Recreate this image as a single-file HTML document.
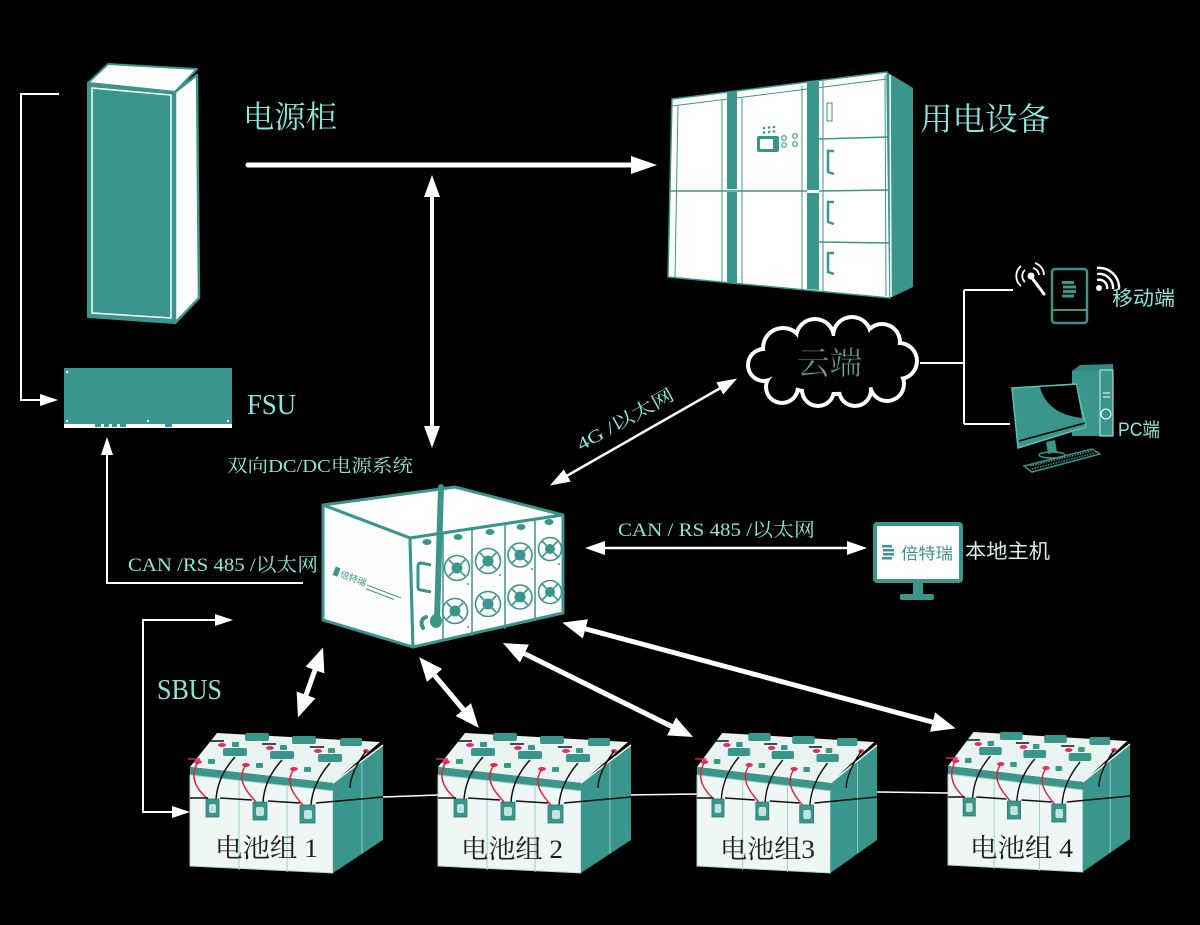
<!DOCTYPE html>
<html><head><meta charset="utf-8">
<style>
html,body{margin:0;padding:0;background:#000;}
svg{display:block;}
.serif{font-family:"Liberation Serif","Noto Serif CJK SC",serif;}
.sans{font-family:"Liberation Sans","Noto Sans CJK SC",sans-serif;}
</style></head><body>
<svg width="1200" height="925" viewBox="0 0 1200 925" xmlns="http://www.w3.org/2000/svg">
<defs>
<marker id="m1" viewBox="0 0 20 14" refX="13" refY="7" markerWidth="20" markerHeight="14" markerUnits="userSpaceOnUse" orient="auto-start-reverse"><path d="M0,0 L20,7 L0,14 z" fill="#fff"/></marker>
<marker id="m2" viewBox="0 0 24 20" refX="15" refY="10" markerWidth="24" markerHeight="20" markerUnits="userSpaceOnUse" orient="auto-start-reverse"><path d="M0,0 L24,10 L0,20 z" fill="#fff"/></marker>
<marker id="m3" viewBox="0 0 18 12" refX="12" refY="6" markerWidth="18" markerHeight="12" markerUnits="userSpaceOnUse" orient="auto-start-reverse"><path d="M0,0 L18,6 L0,12 z" fill="#fff"/></marker>
<marker id="m4" viewBox="0 0 22 16" refX="14" refY="8" markerWidth="22" markerHeight="16" markerUnits="userSpaceOnUse" orient="auto-start-reverse"><path d="M0,0 L22,8 L0,16 z" fill="#fff"/></marker>

<g id="bat">
  <polygon points="0,34 27,0 190,9 143,50" fill="#e9f4f1"/>
  <polygon points="0,34 143,50 143,58 0,42" fill="#3a958a"/>
  <polygon points="0,42 143,58 143,140 0,133" fill="#eef7f5" stroke="#a8d6ce" stroke-width="1"/>
  <polygon points="143,50 193,12 193,107 143,140" fill="#3a958a"/>
  <path d="M143,50 L193,12" stroke="#e8f6f3" stroke-width="1.5"/>
  <path d="M172,30 L172,120" stroke="#8fd0c6" stroke-width="1"/>
  <path d="M49,47 L49,137 M97,52 L97,139" stroke="#9ccfc6" stroke-width="1"/>
  <!-- top blocks -->
  <g fill="#3a958a">
    <rect x="55" y="0" width="24" height="8" rx="2"/>
    <rect x="102" y="3" width="24" height="8" rx="2"/>
    <rect x="150" y="5" width="22" height="8" rx="2"/>
    <rect x="33" y="15" width="24" height="8" rx="2"/>
    <rect x="80" y="18" width="24" height="8" rx="2"/>
    <rect x="128" y="21" width="24" height="8" rx="2"/>
    <rect x="42" y="9" width="7" height="5" rx="1"/>
    <rect x="90" y="12" width="7" height="5" rx="1"/>
    <rect x="138" y="15" width="7" height="5" rx="1"/>
    <rect x="18" y="26" width="7" height="5" rx="1"/>
    <rect x="66" y="30" width="7" height="5" rx="1"/>
    <rect x="114" y="34" width="7" height="5" rx="1"/>
    <rect x="14" y="38" width="16" height="4"/>
    <rect x="62" y="43" width="16" height="4"/>
    <rect x="110" y="48" width="16" height="4"/>
  </g>
  <g fill="#e0306a">
    <ellipse cx="8" cy="29" rx="4" ry="2"/>
    <ellipse cx="56" cy="32" rx="4" ry="2"/>
    <ellipse cx="104" cy="36" rx="4" ry="2"/>
    <ellipse cx="32" cy="12" rx="4" ry="2"/>
    <ellipse cx="80" cy="15" rx="4" ry="2"/>
    <ellipse cx="128" cy="18" rx="4" ry="2"/>
    <ellipse cx="176" cy="18" rx="3" ry="2"/>
  </g>
  <g fill="none" stroke-width="1.5">
    <path d="M8,29 C-2,45 8,58 19,67" stroke="#e0203a"/>
    <path d="M56,32 C46,46 56,58 66,69" stroke="#e0203a"/>
    <path d="M104,36 C94,50 104,62 113,72" stroke="#e0203a"/>
    <path d="M-2,26 L10,26" stroke="#e0203a"/>
    <path d="M45,24 C34,36 27,50 26,67" stroke="#111"/>
    <path d="M92,27 C80,40 74,54 73,69" stroke="#111"/>
    <path d="M140,30 C128,44 122,58 121,72" stroke="#111"/>
    <path d="M176,18 C166,32 160,44 160,55" stroke="#111"/>
    <path d="M20,8 L34,8 M72,11 L86,11 M120,14 L134,14" stroke="#111"/>
    <path d="M0,65 L18,65 M30,65 L62,67 M78,68 L110,70 M126,70 L193,64" stroke="#111"/>
  </g>
  <g fill="#3a958a" stroke="#2a7a70" stroke-width="0.8">
    <rect x="16" y="66" width="13" height="18"/>
    <rect x="63" y="69" width="14" height="18"/>
    <rect x="110" y="72" width="15" height="18"/>
  </g>
  <g fill="#bfe3dd">
    <rect x="19" y="71" width="7" height="9" rx="2"/>
    <rect x="66" y="74" width="8" height="9" rx="2"/>
    <rect x="114" y="77" width="8" height="9" rx="2"/>
  </g>
</g>
</defs>

<!-- Power cabinet -->
<polygon points="88,83 108,64 197,69 175,92" fill="#fff" stroke="#3a958a" stroke-width="2" stroke-linejoin="round"/>
<polygon points="175,92 197,75 199,298 175,323" fill="#fff" stroke="#3a958a" stroke-width="2.5" stroke-linejoin="round"/>
<polygon points="88,83 175,92 175,323 88,317" fill="#3a958a" stroke="#3a958a" stroke-width="2"/>
<polygon points="92,88 171,95 171,318 92,313" fill="none" stroke="#fff" stroke-width="1.5"/>
<polygon points="95,92 167,98 167,314 95,309" fill="none" stroke="#3a958a" stroke-width="1"/>

<text x="243" y="128" class="serif" font-size="31" fill="#8ae6da" textLength="94" lengthAdjust="spacingAndGlyphs">电源柜</text>

<!-- left bracket -->
<polyline points="59,94 21,94 21,400 52,400" fill="none" stroke="#fff" stroke-width="2" marker-end="url(#m3)"/>

<!-- FSU -->
<rect x="64" y="368" width="168" height="57" fill="#3a958a"/>
<rect x="64" y="424" width="168" height="4" fill="#fff"/>
<g fill="#3a958a"><rect x="95" y="424" width="6" height="3"/><rect x="104" y="424" width="5" height="3"/><rect x="112" y="424" width="5" height="3"/><rect x="120" y="424" width="6" height="3"/><rect x="165" y="424" width="7" height="3"/></g>
<g fill="#fff"><circle cx="67" cy="372" r="1.2"/><circle cx="67" cy="421" r="1.2"/><circle cx="148" cy="421" r="1.2"/><circle cx="228" cy="421" r="1.2"/></g>
<text x="247" y="414" class="serif" font-size="28" fill="#8ae6da" textLength="49" lengthAdjust="spacingAndGlyphs">FSU</text>

<!-- top horizontal arrow -->
<line x1="248" y1="165" x2="636" y2="165" stroke="#fff" stroke-width="5" stroke-linecap="round"/>
<polygon points="631,156 657,165 631,174" fill="#fff"/>

<!-- vertical double arrow -->
<line x1="432" y1="183" x2="432" y2="440" stroke="#fff" stroke-width="4" marker-start="url(#m4)" marker-end="url(#m4)"/>

<!-- Equipment -->
<polygon points="672,99 887,72 890,298 668,277" fill="#fff" stroke="#3a958a" stroke-width="1.5"/>
<g stroke="#3a958a" stroke-width="1" fill="none">
  <path d="M672,106 L887,79"/>
  <path d="M678,106 L675,278"/>
  <path d="M722,100 L722,282"/>
  <path d="M742,98 L742,284"/>
  <path d="M802,86 L802,289"/>
  <path d="M823,81 L823,291"/>
  <path d="M885,75 L886,296"/>
</g>
<polygon points="727,92 737,91 737,284 727,283" fill="#3a958a"/>
<polygon points="807,81 819,80 819,290 807,289" fill="#3a958a"/>
<rect x="727" y="189" width="10" height="3" fill="#fff"/>
<rect x="807" y="190" width="12" height="3" fill="#fff"/>
<g stroke="#3a958a" stroke-width="1.5">
  <path d="M670,191 L807,191"/>
  <path d="M819,139 L888,137"/>
  <path d="M819,191 L889,190"/>
  <path d="M819,242 L889,243"/>
</g>
<polygon points="887,72 913,88 913,287 890,298" fill="#3a958a"/>
<path d="M890,75 L891,297" stroke="#fff" stroke-width="1.5"/>
<rect x="757" y="136" width="22" height="16" rx="2" fill="#3a958a"/>
<rect x="760" y="139" width="13" height="10" rx="1" fill="#fff"/>
<g fill="#3a958a"><circle cx="764" cy="128" r="1.3"/><circle cx="769" cy="127.5" r="1.3"/><circle cx="774" cy="127" r="1.3"/><circle cx="764" cy="132.5" r="1.3"/><circle cx="769" cy="132" r="1.3"/><circle cx="774" cy="131.5" r="1.3"/></g>
<g fill="none" stroke="#3a958a" stroke-width="1.2"><circle cx="784" cy="138" r="2.3"/><circle cx="795" cy="136" r="2.3"/><circle cx="784" cy="145" r="2.3"/><circle cx="795" cy="144" r="2.3"/></g>
<rect x="827" y="103" width="5" height="18" fill="#fff" stroke="#3a958a" stroke-width="1"/>
<g fill="none" stroke="#3a958a" stroke-width="2.5">
  <path d="M834,151 L828,151 L828,172 L834,174"/>
  <path d="M834,202 L828,202 L828,222 L834,224"/>
  <path d="M834,253 L828,253 L828,272 L834,274"/>
</g>
<text x="920" y="130" class="serif" font-size="32" fill="#8ae6da" textLength="130" lengthAdjust="spacingAndGlyphs">用电设备</text>

<!-- Cloud -->
<g fill="#fff">
  <ellipse cx="833" cy="364" rx="72" ry="32"/>
  <circle cx="783" cy="348" r="22"/><circle cx="815" cy="338" r="21"/><circle cx="852" cy="336" r="21"/><circle cx="882" cy="342" r="20"/><circle cx="899" cy="361" r="20"/><circle cx="887" cy="384" r="19"/><circle cx="855" cy="390" r="18"/><circle cx="818" cy="390" r="18"/><circle cx="782" cy="387" r="18"/><circle cx="764" cy="365" r="18"/>
</g>
<g fill="#000">
  <ellipse cx="833" cy="364" rx="68" ry="28"/>
  <circle cx="783" cy="348" r="18"/><circle cx="815" cy="338" r="17"/><circle cx="852" cy="336" r="17"/><circle cx="882" cy="342" r="16"/><circle cx="899" cy="361" r="16"/><circle cx="887" cy="384" r="15"/><circle cx="855" cy="390" r="14"/><circle cx="818" cy="390" r="14"/><circle cx="782" cy="387" r="14"/><circle cx="764" cy="365" r="14"/>
</g>
<text x="797" y="374" class="serif" font-size="32" fill="#4fb3a5" stroke="#3a1a1a" stroke-width="0.6" textLength="65" lengthAdjust="spacingAndGlyphs">云端</text>

<!-- cloud connectors -->
<path d="M920,363 L964,363 M964,290 L964,424 M964,290 L1013,290 M964,424 L1010,424" stroke="#fff" stroke-width="2" fill="none"/>

<!-- mobile -->
<rect x="1052" y="269" width="35" height="54" rx="3" fill="#000" stroke="#3a958a" stroke-width="2.5"/>
<path d="M1052,310 L1087,310" stroke="#3a958a" stroke-width="2"/>
<g fill="#3a958a"><rect x="1062" y="281" width="12" height="3"/><rect x="1063" y="285.5" width="13" height="3"/><rect x="1063" y="290" width="13" height="3"/><rect x="1062" y="294.5" width="12" height="3"/></g>
<circle cx="1031" cy="276" r="3.5" fill="#fff"/>
<path d="M1032,278 L1044,294" stroke="#fff" stroke-width="3" stroke-linecap="round"/>
<g fill="none" stroke="#fff" stroke-width="1.8">
  <path d="M1025,282 A8,8 0 0 1 1025,270"/>
  <path d="M1021,286 A13,13 0 0 1 1021,266"/>
  <path d="M1033,268 A8,8 0 0 1 1039,275"/>
  <path d="M1035,263 A13,13 0 0 1 1044,275"/>
</g>
<circle cx="1099" cy="288" r="3" fill="#fff"/>
<g fill="none" stroke="#fff" stroke-width="2.4">
  <path d="M1097,280 A8,8 0 0 1 1107,289"/>
  <path d="M1097,274 A14,14 0 0 1 1113,289"/>
  <path d="M1097,268 A20,20 0 0 1 1119,289"/>
</g>
<text x="1112" y="305" class="sans" font-size="20" fill="#8ae6da" textLength="63" lengthAdjust="spacingAndGlyphs">移动端</text>

<!-- PC -->
<rect x="1072" y="371" width="41" height="65" fill="#3a958a"/>
<polygon points="1072,371 1080,365 1113,364 1113,371" fill="#2f8a7f"/>
<rect x="1100" y="370" width="13" height="66" fill="#3a958a" stroke="#cfeee8" stroke-width="1"/>
<path d="M1103,393 L1110,393 M1103,397 L1110,397" stroke="#fff" stroke-width="1"/>
<circle cx="1106" cy="414" r="5" fill="none" stroke="#fff" stroke-width="1"/>
<polygon points="1012,388 1076,384 1086,427 1018,448" fill="#3a958a" stroke="#5fbfb0" stroke-width="1.5"/>
<path d="M1040,387 Q1047,414 1082,418 L1076,385 Z" fill="#000"/>
<path d="M1019,441 L1085,423" stroke="#000" stroke-width="1.5"/>
<polygon points="1046,442 1055,440 1057,452 1048,454" fill="#3a958a"/>
<ellipse cx="1052" cy="455" rx="13" ry="3" fill="none" stroke="#3a958a" stroke-width="1.5"/>
<polygon points="1024,466 1092,449 1100,454 1032,472" fill="none" stroke="#3a958a" stroke-width="1.5"/>
<path d="M1030,466 L1092,451 M1032,469 L1095,453" stroke="#3a958a" stroke-width="1.5" stroke-dasharray="1.5,1.2"/>
<text x="1118" y="436" class="sans" font-size="19" fill="#8ae6da" textLength="42" lengthAdjust="spacingAndGlyphs">PC端</text>

<!-- 4G arrow -->
<line x1="556" y1="482" x2="731" y2="382" stroke="#fff" stroke-width="2.5" marker-start="url(#m1)" marker-end="url(#m1)"/>
<text transform="translate(581,451) rotate(-29)" class="serif" font-size="18" fill="#8ae6da" textLength="108" lengthAdjust="spacingAndGlyphs">4G /以太网</text>

<!-- central box -->
<polygon points="323,505 455,487 563,515 410,538" fill="#fff" stroke="#3a958a" stroke-width="3" stroke-linejoin="round"/>
<polygon points="323,505 410,538 413,647 323,620" fill="#fcfefe" stroke="#3a958a" stroke-width="3" stroke-linejoin="round"/>
<polygon points="410,538 563,515 563,613 413,647" fill="#fff" stroke="#3a958a" stroke-width="3" stroke-linejoin="round"/>
<g stroke="#3a958a" stroke-width="1.5">
  <path d="M443,533 L443,640"/>
  <path d="M472,528 L472,636"/>
  <path d="M505,523 L505,629"/>
  <path d="M535,518 L535,621"/>
</g>
<g fill="#3a958a">
  <ellipse cx="427" cy="542" rx="4.5" ry="3"/><ellipse cx="458" cy="537" rx="4.5" ry="3"/><ellipse cx="490" cy="532" rx="4.5" ry="3"/><ellipse cx="521" cy="527" rx="4.5" ry="3"/><ellipse cx="549" cy="522" rx="4.5" ry="3"/>
</g>
<g fill="none" stroke="#3a958a" stroke-width="1.6">
  <circle cx="457" cy="568" r="12.5"/><circle cx="455" cy="611" r="12.5"/>
  <circle cx="488" cy="561" r="12.5"/><circle cx="488" cy="604" r="12.5"/>
  <circle cx="520" cy="555" r="12"/><circle cx="520" cy="597" r="12"/>
  <circle cx="550" cy="549" r="11.5"/><circle cx="550" cy="592" r="11.5"/>
  <path d="M449,560 L465,576 M465,560 L449,576 M447,603 L463,619 M463,603 L447,619 M480,553 L496,569 M496,553 L480,569 M480,596 L496,612 M496,596 L480,612 M512,547 L528,563 M528,547 L512,563 M512,589 L528,605 M528,589 L512,605 M542,541 L558,557 M558,541 L542,557 M542,584 L558,600 M558,584 L542,600"/>
</g>
<g fill="#3a958a">
  <circle cx="457" cy="568" r="5.5"/><circle cx="455" cy="611" r="5.5"/><circle cx="488" cy="561" r="5.5"/><circle cx="488" cy="604" r="5.5"/><circle cx="520" cy="555" r="5.5"/><circle cx="520" cy="597" r="5.5"/><circle cx="550" cy="549" r="5"/><circle cx="550" cy="592" r="5"/>
  <circle cx="468" cy="584" r="1"/><circle cx="468" cy="627" r="1"/><circle cx="500" cy="575" r="1"/><circle cx="532" cy="569" r="1"/><circle cx="559" cy="564" r="1"/>
</g>
<path d="M431,565 L421,563 Q418,563 418,566 L418,587 Q418,590 421,590 L431,592" fill="none" stroke="#3a958a" stroke-width="3"/>
<path d="M426,617 Q419,620 423,628" fill="none" stroke="#3a958a" stroke-width="4" stroke-linecap="round"/>
<line x1="441" y1="487" x2="437" y2="620" stroke="#3a958a" stroke-width="6" stroke-linecap="round"/>
<ellipse cx="436" cy="621" rx="6" ry="7" fill="#3a958a"/>
<g transform="translate(333,574) rotate(21)">
  <rect x="0" y="-8" width="5" height="9" fill="#3a958a"/>
  <text x="7" y="0" class="sans" font-size="9" fill="#3a958a">倍特瑞</text>
  <path d="M36,-2 L72,-2 M36,2 L66,2" stroke="#3a958a" stroke-width="1"/>
</g>
<text x="227" y="472" class="serif" font-size="18" fill="#8ae6da" textLength="186" lengthAdjust="spacingAndGlyphs">双向DC/DC电源系统</text>

<!-- left CAN -->
<polyline points="303,583 107,583 107,443" fill="none" stroke="#fff" stroke-width="2" marker-end="url(#m3)"/>
<text x="128" y="571" class="serif" font-size="19" fill="#8ae6da" textLength="190" lengthAdjust="spacingAndGlyphs">CAN /RS 485 /以太网</text>

<!-- right CAN -->
<line x1="592" y1="548" x2="860" y2="548" stroke="#fff" stroke-width="2.5" marker-start="url(#m1)" marker-end="url(#m1)"/>
<text x="618" y="536" class="serif" font-size="19" fill="#8ae6da" textLength="197" lengthAdjust="spacingAndGlyphs">CAN / RS 485 /以太网</text>

<!-- local host -->
<rect x="875" y="524" width="86" height="57" rx="2" fill="#fff" stroke="#3a958a" stroke-width="4"/>
<rect x="913" y="582" width="10" height="13" fill="#3a958a"/>
<rect x="900" y="594" width="34" height="6" rx="2" fill="#3a958a"/>
<g fill="#3a958a"><rect x="882" y="545" width="10" height="2.5"/><rect x="883" y="549" width="11" height="2.5"/><rect x="883" y="553" width="11" height="2.5"/><rect x="882" y="557" width="10" height="2.5"/></g>
<text x="901" y="559" class="sans" font-size="16" fill="#3a958a" textLength="52" lengthAdjust="spacingAndGlyphs">倍特瑞</text>
<text x="965" y="558" class="sans" font-size="20" fill="#d4efea" textLength="85" lengthAdjust="spacingAndGlyphs">本地主机</text>

<!-- SBUS -->
<polyline points="227,620 143,620 143,812 184,812" fill="none" stroke="#fff" stroke-width="2" marker-start="url(#m3)" marker-end="url(#m3)"/>
<text x="157" y="699" class="serif" font-size="29" fill="#8ae6da" textLength="65" lengthAdjust="spacingAndGlyphs">SBUS</text>

<!-- battery arrows -->
<g stroke="#fff" stroke-width="5">
  <line x1="320" y1="656" x2="301" y2="709" marker-start="url(#m2)" marker-end="url(#m2)"/>
  <line x1="425" y1="664" x2="473" y2="721" marker-start="url(#m2)" marker-end="url(#m2)"/>
  <line x1="511" y1="647" x2="685" y2="733" marker-start="url(#m2)" marker-end="url(#m2)"/>
  <line x1="571" y1="625" x2="947" y2="726" marker-start="url(#m2)" marker-end="url(#m2)"/>
</g>

<!-- batteries -->
<path d="M383,797 L438,795 M630,795 L697,794 M877,792 L948,793" stroke="#fff" stroke-width="1.5" fill="none"/>
<use href="#bat" transform="translate(190,733)"/>
<use href="#bat" transform="translate(438,733)"/>
<use href="#bat" transform="translate(697,733) scale(0.933,1)"/>
<use href="#bat" transform="translate(948,732) scale(0.943,1)"/>
<g class="serif" font-size="26" fill="#1c1c1c">
  <text x="215" y="857" textLength="103" lengthAdjust="spacingAndGlyphs">电池组 1</text>
  <text x="461" y="858" textLength="102" lengthAdjust="spacingAndGlyphs">电池组 2</text>
  <text x="720" y="858" textLength="95" lengthAdjust="spacingAndGlyphs">电池组3</text>
  <text x="970" y="857" textLength="103" lengthAdjust="spacingAndGlyphs">电池组 4</text>
</g>
</svg>
</body></html>
